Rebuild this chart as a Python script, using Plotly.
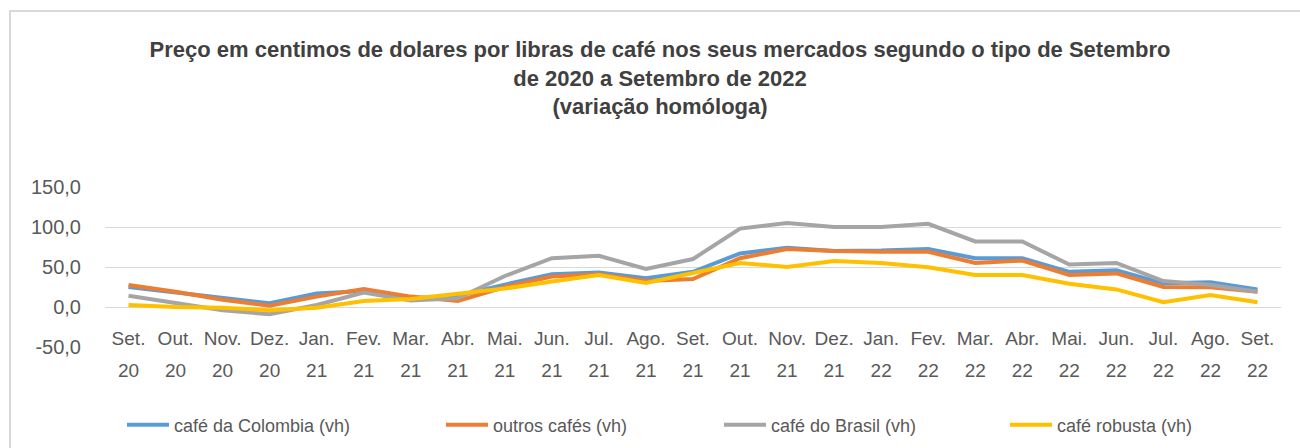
import plotly.graph_objects as go

months = ["Set.", "Out.", "Nov.", "Dez.", "Jan.", "Fev.", "Mar.", "Abr.", "Mai.", "Jun.", "Jul.", "Ago.",
          "Set.", "Out.", "Nov.", "Dez.", "Jan.", "Fev.", "Mar.", "Abr.", "Mai.", "Jun.", "Jul.", "Ago.", "Set."]
years = ["20"] * 4 + ["21"] * 12 + ["22"] * 9

colombia = [25, 18, 11, 4.6, 17, 20, 11, 14, 28, 41, 43, 36, 44, 67, 74, 70, 70.5, 72.5, 61, 61, 44, 46, 29.6, 31, 22]
outros = [27.5, 19, 9, 1.7, 13, 22.5, 13, 7.5, 25, 38, 41, 32.5, 35, 61, 72.5, 70, 69, 69, 55, 58, 40, 42, 25, 24.6, 19]
brasil = [14, 5, -4, -9, 2.5, 18, 8, 11, 38.75, 61, 64, 47.5, 60, 98, 105, 100, 100, 104, 82, 82, 53, 55, 32.5, 27.5, 19]
robusta = [2.5, 0, -1, -4, -1, 7.5, 10, 16, 23, 32, 40, 30, 43, 55, 50, 57.5, 55, 49.6, 40, 40, 29, 22, 6, 15, 6]

y_ticks = [-50, 0, 50, 100, 150]
y_ticktext = [f"{v:.1f}".replace(".", ",") for v in y_ticks]

names = ["café da Colombia (vh)", "outros cafés (vh)", "café do Brasil (vh)", "café robusta (vh)"]
colors = ["#5B9BD5", "#ED7D31", "#A5A5A5", "#FFC000"]
series = [colombia, outros, brasil, robusta]

W, H = 1300, 448
L, R, T, B = 105, 1281, 187, 347  # plot area in px


def px_x(p):
    return (p - L) / (R - L)


def px_y(p):
    return (B - p) / (B - T)


idx = list(range(len(months)))
legend_names = ["legend", "legend2", "legend3", "legend4"]
legend_px = [122, 441, 719, 1005]

fig = go.Figure()
for i, (nm, col, s) in enumerate(zip(names, colors, series)):
    fig.add_trace(go.Scatter(
        x=idx, y=s, name=nm, mode="lines",
        line=dict(color=col, width=4),
        xaxis="x2" if i == 3 else "x",
        legend=legend_names[i],
    ))

legend_font = dict(family="Liberation Sans, Arial", size=18, color="#595959")
leg_layout = {}
for ln, lp in zip(legend_names, legend_px):
    leg_layout[ln] = dict(orientation="h", x=px_x(lp), y=px_y(425), xanchor="left", yanchor="middle",
                          font=legend_font, bgcolor="rgba(0,0,0,0)", itemwidth=42)

tick_font = dict(family="Liberation Sans, Arial", size=19, color="#595959")

fig.update_layout(
    width=W, height=H,
    margin=dict(l=L, r=W - R, t=T, b=H - B, autoexpand=False),
    paper_bgcolor="white", plot_bgcolor="white",
    title=dict(
        text="<b>Preço em centimos de dolares por libras de café nos seus mercados segundo o tipo de Setembro<br>de 2020 a Setembro de 2022<br>(variação homóloga)</b>",
        x=660 / W, xanchor="center", xref="container",
        y=1 - 57 / H, yanchor="top", yref="container",
        font=dict(family="Liberation Sans, Arial", size=22, color="#404040"),
    ),
    xaxis=dict(range=[-0.5, len(months) - 0.5], tickmode="array", tickvals=idx, ticktext=months,
               showgrid=False, zeroline=False, showline=False, ticks="", tickfont=tick_font,
               ticklabelstandoff=-22, fixedrange=True, automargin=False),
    xaxis2=dict(range=[-0.5, len(months) - 0.5], tickmode="array", tickvals=idx, ticktext=years,
                overlaying="x", anchor="y", side="bottom",
                showgrid=False, zeroline=False, showline=False, ticks="", tickfont=tick_font,
                ticklabelstandoff=10, fixedrange=True, automargin=False),
    yaxis=dict(range=[-50, 150], tickmode="array", tickvals=y_ticks, ticktext=y_ticktext, showgrid=True,
               gridcolor="#D9D9D9", gridwidth=1, zeroline=False, showline=False, ticks="",
               tickfont=dict(family="Liberation Sans, Arial", size=20, color="#595959"),
               ticklabelstandoff=23, fixedrange=True, automargin=False),
    showlegend=True,
    **leg_layout,
)

fig.add_shape(type="rect", xref="paper", yref="paper",
              x0=px_x(10), x1=px_x(1320), y0=px_y(470), y1=px_y(11),
              line=dict(color="#D9D9D9", width=2), fillcolor="rgba(0,0,0,0)", layer="below")

fig.write_html("out.html", config={"displayModeBar": False},
               post_script="document.body.style.margin='0';")
